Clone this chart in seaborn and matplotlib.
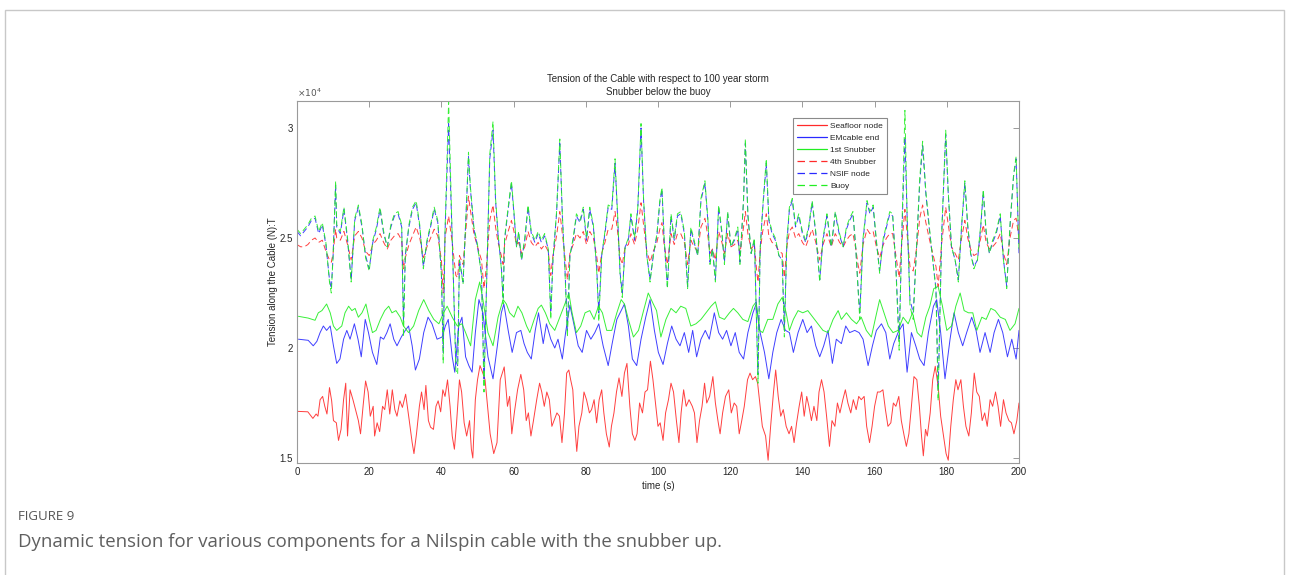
import numpy as np
import pandas as pd
import matplotlib
matplotlib.use("Agg")
import matplotlib.pyplot as plt
from matplotlib.patches import Rectangle
import seaborn as sns

# ---- tension histories (units of 1e4 N) ----
time_upper = [0, 1, 2, 3, 4, 5, 6, 7, 8, 9,
              9.5, 10, 10.7, 11, 12, 13, 14, 15, 16, 17,
              18, 19, 20, 21, 22, 23, 24, 25, 26, 27,
              28, 29, 29.5, 30, 31, 32, 33, 34, 35, 36,
              37, 38, 39, 40, 40.5, 41, 42, 43, 44, 44.5,
              45, 46, 47, 47.5, 48, 49, 50, 51.1, 51.8, 52.4,
              53.4, 54.3, 55, 55.7, 56.6, 57.1, 57.5, 58.5, 59.4, 60.1,
              60.8, 61.4, 62.2, 63.1, 64, 64.9, 65.9, 66.8, 67.7, 68.6,
              69.6, 70.3, 70.9, 71.9, 72.8, 73.5, 74.2, 74.9, 75.6, 76.5,
              77.4, 78.4, 79.3, 80.2, 81.1, 82.1, 83, 83.6, 84.4, 85.3,
              86.2, 87.2, 88.1, 88.8, 89.5, 90.1, 90.9, 91.8, 92.5, 93.5,
              94.4, 95.3, 96, 96.9, 97.8, 98.7, 99.7, 100.5, 101.1, 101.7,
              102.6, 103.6, 104.5, 105.4, 106.3, 107.3, 108.2, 109.1, 110, 111,
              111.9, 113, 113.8, 114.4, 115.1, 115.9, 116.8, 117.7, 118.4, 119.3,
              120.2, 121.2, 122.1, 122.7, 123.7, 124.2, 124.9, 125.8, 126.7, 127.4,
              127.7, 128.3, 129, 130, 130.7, 131.6, 132.5, 133.5, 134.4, 135,
              135.7, 136.4, 137.2, 138.1, 139, 140, 140.9, 141.8, 142.7, 143.7,
              144.8, 145.7, 146.8, 148, 149.1, 150.3, 151.3, 152.2, 153.1, 154,
              154.8, 155.4, 155.9, 156.8, 157.9, 158.7, 159.6, 160.5, 161.4, 162.4,
              163.3, 164.2, 165, 165.9, 166.8, 167.5, 168.4, 169, 169.8, 170.7,
              171.6, 172.5, 173.3, 174.2, 175.1, 176.1, 177, 177.6, 178.6, 179.7,
              180.4, 181.3, 182.3, 183.2, 184.1, 185, 185.8, 186.6, 187.5, 188.5,
              189.4, 190.1, 190.9, 191.8, 192.7, 193.7, 194.8, 195.7, 196.6, 197.5,
              198.5, 199.2, 200]

nsif_node = [2.53, 2.51, 2.53, 2.55, 2.58, 2.59, 2.52, 2.56, 2.47, 2.31,
             2.27, 2.42, 2.74, 2.55, 2.52, 2.63, 2.49, 2.31, 2.58, 2.64,
             2.55, 2.42, 2.36, 2.48, 2.54, 2.63, 2.52, 2.46, 2.55, 2.60,
             2.61, 2.55, 2.12, 2.42, 2.55, 2.63, 2.66, 2.55, 2.37, 2.48,
             2.55, 2.63, 2.57, 2.34, 1.98, 2.52, 3.02, 2.49, 1.94, 1.92,
             2.40, 2.30, 2.67, 2.87, 2.73, 2.54, 2.46, 2.34, 1.86, 2.22,
             2.86, 2.99, 2.67, 2.51, 2.37, 2.23, 2.49, 2.63, 2.75, 2.61,
             2.46, 2.52, 2.40, 2.49, 2.64, 2.52, 2.48, 2.52, 2.48, 2.51,
             2.45, 2.16, 2.40, 2.61, 2.93, 2.60, 2.37, 2.08, 2.42, 2.49,
             2.60, 2.57, 2.63, 2.49, 2.63, 2.55, 2.37, 2.16, 2.42, 2.52,
             2.64, 2.63, 2.84, 2.60, 2.34, 2.25, 2.46, 2.49, 2.60, 2.49,
             2.63, 3.00, 2.67, 2.42, 2.31, 2.42, 2.51, 2.66, 2.72, 2.49,
             2.28, 2.60, 2.49, 2.60, 2.61, 2.52, 2.28, 2.54, 2.48, 2.42,
             2.67, 2.75, 2.58, 2.39, 2.45, 2.31, 2.64, 2.52, 2.39, 2.61,
             2.46, 2.49, 2.54, 2.39, 2.67, 2.93, 2.60, 2.43, 2.49, 2.07,
             1.88, 2.45, 2.63, 2.84, 2.58, 2.52, 2.49, 2.42, 2.40, 2.08,
             2.48, 2.63, 2.67, 2.55, 2.60, 2.52, 2.48, 2.55, 2.66, 2.52,
             2.31, 2.49, 2.60, 2.46, 2.61, 2.51, 2.46, 2.54, 2.58, 2.61,
             2.45, 2.28, 2.16, 2.49, 2.66, 2.61, 2.64, 2.48, 2.35, 2.49,
             2.55, 2.61, 2.60, 2.37, 2.03, 2.49, 2.96, 2.60, 2.22, 2.16,
             2.45, 2.75, 2.92, 2.70, 2.55, 2.40, 2.27, 1.81, 2.52, 2.97,
             2.70, 2.46, 2.40, 2.31, 2.55, 2.75, 2.55, 2.43, 2.37, 2.40,
             2.55, 2.71, 2.52, 2.43, 2.48, 2.52, 2.60, 2.40, 2.28, 2.55,
             2.78, 2.86, 2.43]

buoy = [2.54, 2.52, 2.54, 2.56, 2.59, 2.60, 2.53, 2.57, 2.48, 2.30,
        2.25, 2.42, 2.76, 2.56, 2.53, 2.64, 2.50, 2.30, 2.59, 2.65,
        2.56, 2.41, 2.35, 2.49, 2.55, 2.64, 2.53, 2.46, 2.56, 2.61,
        2.62, 2.56, 2.05, 2.42, 2.56, 2.64, 2.67, 2.56, 2.36, 2.49,
        2.56, 2.64, 2.58, 2.33, 1.93, 2.53, 3.12, 2.50, 1.90, 1.88,
        2.40, 2.29, 2.68, 2.89, 2.74, 2.55, 2.47, 2.33, 1.80, 2.20,
        2.88, 3.03, 2.68, 2.52, 2.36, 2.20, 2.50, 2.64, 2.76, 2.62,
        2.46, 2.53, 2.40, 2.50, 2.65, 2.53, 2.49, 2.53, 2.49, 2.52,
        2.45, 2.13, 2.40, 2.62, 2.95, 2.61, 2.36, 2.05, 2.42, 2.50,
        2.61, 2.58, 2.64, 2.50, 2.64, 2.56, 2.36, 2.12, 2.42, 2.53,
        2.65, 2.64, 2.86, 2.61, 2.33, 2.23, 2.46, 2.50, 2.61, 2.50,
        2.64, 3.02, 2.68, 2.42, 2.30, 2.42, 2.52, 2.67, 2.73, 2.50,
        2.27, 2.61, 2.50, 2.61, 2.62, 2.53, 2.27, 2.55, 2.49, 2.42,
        2.68, 2.76, 2.59, 2.38, 2.45, 2.30, 2.65, 2.53, 2.38, 2.62,
        2.46, 2.50, 2.55, 2.38, 2.68, 2.95, 2.61, 2.43, 2.50, 2.04,
        1.84, 2.45, 2.64, 2.86, 2.59, 2.53, 2.50, 2.42, 2.40, 2.05,
        2.49, 2.64, 2.68, 2.56, 2.61, 2.53, 2.49, 2.56, 2.67, 2.53,
        2.30, 2.50, 2.61, 2.46, 2.62, 2.52, 2.46, 2.55, 2.59, 2.62,
        2.45, 2.27, 2.13, 2.50, 2.67, 2.62, 2.65, 2.49, 2.34, 2.50,
        2.56, 2.62, 2.61, 2.36, 1.99, 2.50, 3.08, 2.61, 2.19, 2.13,
        2.45, 2.77, 2.94, 2.71, 2.56, 2.40, 2.26, 1.76, 2.53, 2.99,
        2.71, 2.46, 2.40, 2.30, 2.56, 2.76, 2.56, 2.43, 2.36, 2.40,
        2.56, 2.72, 2.53, 2.43, 2.49, 2.53, 2.61, 2.40, 2.27, 2.56,
        2.79, 2.87, 2.44]

snubber_4th = [2.47, 2.46, 2.46, 2.47, 2.49, 2.50, 2.48, 2.49, 2.44, 2.40,
               2.39, 2.43, 2.54, 2.50, 2.49, 2.53, 2.47, 2.40, 2.51, 2.53,
               2.50, 2.44, 2.42, 2.47, 2.49, 2.52, 2.48, 2.45, 2.49, 2.51,
               2.52, 2.49, 2.36, 2.41, 2.47, 2.51, 2.55, 2.50, 2.41, 2.46,
               2.50, 2.54, 2.51, 2.40, 2.25, 2.50, 2.60, 2.48, 2.33, 2.32,
               2.42, 2.38, 2.58, 2.69, 2.63, 2.52, 2.46, 2.40, 2.27, 2.36,
               2.58, 2.65, 2.55, 2.48, 2.42, 2.38, 2.47, 2.53, 2.58, 2.53,
               2.47, 2.48, 2.43, 2.46, 2.53, 2.48, 2.46, 2.48, 2.45, 2.47,
               2.44, 2.33, 2.42, 2.51, 2.62, 2.52, 2.42, 2.31, 2.43, 2.47,
               2.52, 2.50, 2.53, 2.47, 2.53, 2.50, 2.42, 2.34, 2.43, 2.48,
               2.54, 2.54, 2.62, 2.53, 2.41, 2.38, 2.46, 2.47, 2.52, 2.47,
               2.54, 2.66, 2.56, 2.44, 2.39, 2.44, 2.48, 2.54, 2.57, 2.47,
               2.38, 2.52, 2.47, 2.52, 2.52, 2.48, 2.38, 2.49, 2.46, 2.44,
               2.55, 2.59, 2.51, 2.43, 2.45, 2.40, 2.53, 2.48, 2.43, 2.52,
               2.46, 2.47, 2.49, 2.43, 2.55, 2.62, 2.52, 2.45, 2.47, 2.34,
               2.30, 2.44, 2.53, 2.61, 2.51, 2.48, 2.47, 2.44, 2.43, 2.32,
               2.46, 2.53, 2.55, 2.50, 2.52, 2.48, 2.46, 2.50, 2.54, 2.48,
               2.40, 2.47, 2.52, 2.46, 2.52, 2.48, 2.46, 2.49, 2.51, 2.52,
               2.45, 2.38, 2.34, 2.47, 2.54, 2.52, 2.53, 2.46, 2.41, 2.47,
               2.50, 2.52, 2.52, 2.42, 2.32, 2.47, 2.63, 2.52, 2.37, 2.35,
               2.45, 2.59, 2.65, 2.57, 2.50, 2.43, 2.37, 2.28, 2.48, 2.64,
               2.56, 2.46, 2.43, 2.40, 2.50, 2.58, 2.50, 2.45, 2.42, 2.43,
               2.50, 2.56, 2.48, 2.45, 2.46, 2.48, 2.52, 2.43, 2.38, 2.50,
               2.58, 2.59, 2.50]

time_first = [0.4, 3.1, 5, 5.9, 6.9, 8.2, 9.2, 10.1, 11, 12.4,
              13.3, 14.3, 15.2, 16.1, 17, 18, 19.1, 20, 20.9, 21.9,
              23.1, 24.3, 25.4, 26.3, 27.4, 28.6, 29.5, 30.9, 32.3, 33.7,
              35.1, 36.5, 37.9, 39.3, 40.6, 41.6, 43, 44.4, 45.7, 46.7,
              48.1, 49.4, 50.6, 51.5, 52.9, 54.3, 55.7, 57.1, 58, 58.9,
              60.1, 61.2, 62.3, 63.6, 64.5, 65.7, 66.8, 67.7, 68.8, 70,
              71.4, 72.8, 74.2, 75.3, 76.2, 77.4, 78.6, 79.8, 81.1, 82.3,
              83.5, 84.6, 85.8, 87.2, 88.6, 89.8, 90.7, 91.8, 93.2, 94.6,
              96, 97.3, 98.7, 99.6, 100.8, 102.2, 103.6, 105, 106.3, 107.7,
              109.1, 110.5, 111.9, 113.3, 114.7, 115.9, 117, 118.4, 119.8, 120.9,
              122.1, 123.5, 124.9, 126.3, 127.2, 128.1, 129, 130.4, 131.8, 133.2,
              134.4, 135.5, 136.4, 137.5, 138.8, 140.1, 141.5, 142.9, 144.3, 145.7,
              147.1, 148.5, 149.9, 150.8, 152.2, 153.6, 155, 156.3, 157.7, 159.1,
              160.3, 161.4, 162.4, 163.8, 165.1, 166.5, 167.9, 169.3, 170.5, 171.8,
              173, 174.2, 175.3, 176.4, 177.6, 178.8, 180, 181.3, 182.5, 183.7,
              184.8, 186, 187.2, 188.3, 189.7, 190.9, 192.2, 193.4, 194.8, 196.2,
              197.5, 198.9, 200]

snubber_1st = [2.144, 2.136, 2.126, 2.16, 2.17, 2.20, 2.16, 2.10, 2.08, 2.10,
               2.16, 2.19, 2.17, 2.18, 2.14, 2.16, 2.20, 2.13, 2.07, 2.08,
               2.13, 2.17, 2.19, 2.16, 2.17, 2.14, 2.10, 2.07, 2.10, 2.17,
               2.22, 2.17, 2.13, 2.11, 2.16, 2.19, 2.14, 2.10, 2.11, 2.07,
               2.01, 2.22, 2.30, 2.22, 2.07, 2.01, 2.14, 2.22, 2.20, 2.16,
               2.14, 2.19, 2.16, 2.10, 2.07, 2.13, 2.18, 2.195, 2.16, 2.11,
               2.08, 2.14, 2.20, 2.25, 2.16, 2.07, 2.10, 2.16, 2.17, 2.13,
               2.19, 2.16, 2.08, 2.08, 2.16, 2.22, 2.20, 2.13, 2.05, 2.08,
               2.17, 2.25, 2.20, 2.17, 2.05, 2.13, 2.18, 2.16, 2.19, 2.18,
               2.10, 2.11, 2.13, 2.16, 2.19, 2.21, 2.14, 2.13, 2.16, 2.18,
               2.16, 2.13, 2.12, 2.19, 2.21, 2.08, 2.07, 2.13, 2.13, 2.20,
               2.23, 2.16, 2.08, 2.13, 2.17, 2.16, 2.17, 2.14, 2.11, 2.08,
               2.07, 2.13, 2.17, 2.13, 2.16, 2.13, 2.11, 2.14, 2.08, 2.05,
               2.14, 2.22, 2.17, 2.10, 2.07, 2.08, 2.14, 2.11, 2.16, 2.07,
               2.05, 2.14, 2.19, 2.27, 2.28, 2.19, 2.08, 2.10, 2.19, 2.25,
               2.17, 2.16, 2.16, 2.08, 2.14, 2.13, 2.18, 2.17, 2.14, 2.13,
               2.08, 2.11, 2.18]

time_emcable = [0.4, 3.1, 4.5, 5.5, 6.4, 7.3, 8.2, 9.2, 10.1, 11,
                11.9, 12.9, 13.8, 14.7, 15.9, 16.9, 17.8, 18.9, 19.8, 20.9,
                22.1, 23.1, 24, 24.9, 25.8, 26.8, 27.7, 28.9, 30, 30.9,
                31.9, 32.8, 33.9, 35.1, 36.3, 37.4, 38.8, 40.2, 41.1, 41.9,
                43, 43.7, 44.8, 45.7, 46.7, 47.6, 48.5, 49.4, 50.4, 51.5,
                52.9, 54.3, 55.5, 56.6, 57.3, 58.5, 59.6, 60.8, 62, 62.9,
                63.8, 64.9, 66, 66.9, 68.2, 69.1, 70.3, 71.4, 72.3, 73.5,
                74.4, 75.6, 76.8, 77.9, 79, 80.2, 81.4, 82.5, 83.6, 84.8,
                86.2, 87.3, 88.6, 89.5, 90.7, 91.8, 92.9, 94.1, 95.3, 96.6,
                97.8, 99, 100.1, 101.4, 102.6, 103.8, 105, 106.1, 107.3, 108.5,
                109.6, 110.7, 111.9, 113.1, 114.2, 115.6, 116.8, 117.9, 119, 120.2,
                121.4, 122.5, 123.7, 124.9, 126.3, 127.2, 128.3, 129.5, 130.7, 131.8,
                132.9, 134.1, 135.3, 136.4, 137.5, 138.8, 140.1, 141.3, 142.5, 143.7,
                144.8, 145.9, 147.1, 148.3, 149.4, 150.8, 152, 153.1, 154.5, 155.7,
                156.8, 158.2, 159.4, 160.5, 161.9, 163.1, 164.2, 165.3, 166.5, 167.9,
                169, 170.2, 171.4, 172.5, 173.7, 174.9, 176.3, 177.2, 178.3, 179.5,
                180.9, 182, 183.2, 184.4, 185.5, 186.9, 188.1, 189.2, 190.6, 192,
                193.1, 194.3, 195.5, 196.8, 198, 199.2, 200]

emcable_end = [2.04, 2.035, 2.01, 2.03, 2.07, 2.10, 2.08, 2.10, 2.01, 1.93,
               1.95, 2.04, 2.08, 2.04, 2.11, 2.04, 1.96, 2.13, 2.07, 1.98,
               1.925, 2.05, 2.04, 2.07, 2.11, 2.04, 2.01, 2.05, 2.08, 2.10,
               2.01, 1.90, 1.95, 2.07, 2.14, 2.11, 2.04, 2.05, 2.10, 2.13,
               1.96, 1.89, 2.10, 2.14, 1.96, 1.92, 1.89, 2.07, 2.22, 2.16,
               1.96, 1.86, 2.01, 2.16, 2.20, 2.08, 1.98, 2.07, 2.08, 2.02,
               1.98, 1.95, 2.08, 2.16, 2.02, 2.11, 2.04, 2.00, 2.04, 1.95,
               2.07, 2.195, 2.10, 2.01, 1.98, 2.08, 2.04, 2.07, 2.11, 2.01,
               1.92, 2.02, 2.13, 2.16, 2.20, 2.10, 1.95, 1.92, 2.04, 2.14,
               2.22, 2.08, 1.98, 1.925, 2.02, 2.10, 2.04, 2.01, 2.07, 1.98,
               2.08, 1.96, 2.04, 2.08, 2.04, 2.16, 2.07, 2.04, 2.08, 2.01,
               2.07, 1.98, 1.95, 2.07, 2.16, 2.20, 2.07, 1.98, 1.86, 1.98,
               2.07, 2.13, 2.08, 2.07, 1.98, 2.07, 2.13, 2.07, 2.10, 2.01,
               1.96, 2.01, 2.08, 1.93, 2.04, 2.02, 2.10, 2.07, 2.08, 2.07,
               2.04, 1.92, 2.01, 2.08, 2.11, 2.07, 1.95, 2.02, 2.07, 2.11,
               1.89, 2.07, 2.01, 1.95, 1.92, 2.07, 2.19, 2.22, 2.07, 1.86,
               2.04, 2.16, 2.07, 2.01, 2.07, 2.14, 2.08, 1.98, 2.07, 1.98,
               2.07, 2.13, 2.07, 1.96, 2.04, 1.95, 2.08]

time_seafloor = [0.2, 3, 4.4, 5.3, 5.8, 6.4, 7.1, 7.7, 8.3, 9,
                 9.6, 10.1, 10.9, 11.5, 12.2, 12.9, 13.5, 14, 14.7, 15.5,
                 16.2, 17, 17.6, 18.3, 19, 19.7, 20.3, 21.1, 21.5, 22.2,
                 22.9, 23.7, 24.3, 25, 25.7, 26.4, 27.1, 27.7, 28.5, 29.2,
                 30.1, 31.1, 31.9, 32.4, 33.1, 33.9, 34.5, 35.2, 35.7, 36.4,
                 37, 37.8, 38.5, 39.1, 39.8, 40.4, 41, 41.7, 42.4, 43,
                 43.6, 44.2, 45, 45.6, 46.3, 47, 47.8, 48.3, 48.7, 49.4,
                 50, 50.7, 51.5, 52.1, 52.8, 53.5, 54.5, 55.4,
                 56.3, 57.4, 58.3, 58.9, 59.5, 60.2, 61.1, 62, 62.8, 63.5,
                 64.1, 64.8, 65.5, 66.4, 67.2, 67.8, 68.5, 69.2, 69.9, 70.6,
                 71.2, 72, 72.7, 73.4, 74.1, 74.7, 75.3, 75.8, 76.4, 76.9,
                 77.5, 78.1, 78.9, 79.5, 80.2, 81, 81.6, 82.3, 83, 83.7,
                 84.4, 85, 85.7, 86.5, 87.1, 87.8, 88.5, 89.2, 90, 90.7,
                 91.4, 92.2, 92.9, 93.6, 94.2, 94.9, 95.7, 96.4, 97.1, 97.9,
                 98.6, 99.4, 100, 100.6, 101.4, 102.1, 102.9, 103.6, 104.3, 105.1,
                 105.8, 106.4, 107.1, 107.8, 108.6, 109.5, 110.1, 110.8, 111.5, 112.2,
                 112.9, 113.5, 114.3, 115.2, 115.9, 116.6, 117.2, 117.9, 118.7, 119.6,
                 120.3, 121.1, 121.8, 122.5, 123.2, 123.9, 124.8, 125.5,
                 126.2, 127.0, 127.6, 128.3, 128.9, 129.8, 130.5, 131.2, 132, 132.6,
                 133.3, 134, 134.7, 135.5, 136.3, 137, 137.7, 138.4, 139.1, 139.8,
                 140.5, 141.2, 141.8, 142.5, 143.2, 144, 144.6, 145.3, 146, 146.7,
                 147.5, 148.2, 149, 149.7, 150.4, 151.2, 151.9, 152.6, 153.4, 154.1,
                 154.9, 155.6, 156.3, 157.1, 157.8, 158.6, 159.3, 160, 160.8, 161.5,
                 162.3, 163, 163.7, 164.5, 165.2, 165.9, 166.7, 167.4, 168.2, 168.8,
                 169.5, 170.2, 170.9, 171.7, 172.4, 173, 173.5, 174.1, 174.6, 175.4,
                 176.1, 176.8, 177.6, 178.3, 179.1, 179.8, 180.4, 181.1, 181.8, 182.5,
                 183.1, 183.9, 184.6, 185.3, 186.1, 186.8, 187.6, 188.3, 189, 189.8,
                 190.5, 191.2, 192, 192.7, 193.5, 194.2, 194.9, 195.7, 196.4, 197.2,
                 197.9, 198.6, 199.4, 200]

seafloor_node = [1.712, 1.71, 1.68, 1.70, 1.69, 1.765, 1.78, 1.735, 1.70, 1.82,
                 1.76, 1.67, 1.66, 1.58, 1.63, 1.765, 1.84, 1.60, 1.81, 1.765,
                 1.72, 1.67, 1.61, 1.735, 1.85, 1.80, 1.69, 1.735, 1.60, 1.66,
                 1.62, 1.735, 1.72, 1.81, 1.70, 1.81, 1.72, 1.69, 1.76, 1.73,
                 1.79, 1.67, 1.57, 1.52, 1.61, 1.735, 1.80, 1.72, 1.83, 1.67,
                 1.64, 1.63, 1.735, 1.76, 1.71, 1.81, 1.78, 1.855, 1.735, 1.60,
                 1.54, 1.66, 1.855, 1.80, 1.66, 1.60, 1.67, 1.54, 1.50, 1.765,
                 1.855, 1.92, 1.885, 1.855, 1.735, 1.61, 1.52, 1.57,
                 1.856, 1.914, 1.735, 1.78, 1.61, 1.705, 1.81, 1.88, 1.81, 1.67,
                 1.705, 1.60, 1.67, 1.765, 1.84, 1.80, 1.735, 1.80, 1.765, 1.644,
                 1.67, 1.705, 1.69, 1.57, 1.705, 1.886, 1.90, 1.856, 1.81, 1.66,
                 1.53, 1.644, 1.705, 1.80, 1.765, 1.705, 1.72, 1.765, 1.66, 1.765,
                 1.81, 1.705, 1.61, 1.55, 1.644, 1.705, 1.80, 1.864, 1.78, 1.886,
                 1.93, 1.735, 1.61, 1.58, 1.61, 1.75, 1.705, 1.80, 1.81, 1.94,
                 1.856, 1.735, 1.644, 1.66, 1.58, 1.705, 1.765, 1.84, 1.80, 1.67,
                 1.57, 1.705, 1.81, 1.735, 1.765, 1.735, 1.705, 1.57, 1.67, 1.735,
                 1.84, 1.75, 1.78, 1.87, 1.75, 1.67, 1.61, 1.705, 1.78, 1.81,
                 1.705, 1.75, 1.735, 1.61, 1.67, 1.735, 1.856, 1.886,
                 1.856, 1.87, 1.84, 1.735, 1.644, 1.60, 1.49, 1.644, 1.80, 1.90,
                 1.78, 1.69, 1.72, 1.644, 1.61, 1.644, 1.57, 1.66, 1.735, 1.80,
                 1.69, 1.78, 1.735, 1.67, 1.735, 1.67, 1.80, 1.856, 1.80, 1.69,
                 1.553, 1.67, 1.644, 1.75, 1.705, 1.765, 1.81, 1.75, 1.705, 1.765,
                 1.72, 1.78, 1.765, 1.78, 1.644, 1.57, 1.644, 1.735, 1.80, 1.80,
                 1.81, 1.72, 1.644, 1.66, 1.75, 1.735, 1.78, 1.67, 1.60, 1.553,
                 1.61, 1.735, 1.87, 1.856, 1.735, 1.60, 1.51, 1.63, 1.60, 1.705,
                 1.856, 1.917, 1.826, 1.69, 1.60, 1.52, 1.49, 1.644, 1.765, 1.856,
                 1.81, 1.856, 1.735, 1.644, 1.60, 1.705, 1.886, 1.80, 1.78, 1.67,
                 1.705, 1.644, 1.765, 1.735, 1.80, 1.735, 1.644, 1.765, 1.705, 1.67,
                 1.66, 1.61, 1.67, 1.75]

series_names = ["Seafloor node", "EMcable end", "1st Snubber",
                "4th Snubber", "NSIF node", "Buoy"]
x_ticks = [0, 20, 40, 60, 80, 100, 120, 140, 160, 180, 200]
y_ticks = [1.5, 2, 2.5, 3]
y_tick_labels = ["1.5", "2", "2.5", "3"]

# ---- assemble long-form table ----
series_data = [
    (series_names[0], time_seafloor, seafloor_node),
    (series_names[1], time_emcable, emcable_end),
    (series_names[2], time_first, snubber_1st),
    (series_names[3], time_upper, snubber_4th),
    (series_names[4], time_upper, nsif_node),
    (series_names[5], time_upper, buoy),
]
frames = []
for name, t, v in series_data:
    frames.append(pd.DataFrame({"time": t, "tension": v, "series": name}))
df = pd.concat(frames, ignore_index=True)

styles = {
    "Seafloor node": dict(color="#ff2a2a", dashed=False),
    "EMcable end": dict(color="#2a2aff", dashed=False),
    "1st Snubber": dict(color="#22ee22", dashed=False),
    "4th Snubber": dict(color="#ff2a2a", dashed=True),
    "NSIF node": dict(color="#2a2aff", dashed=True),
    "Buoy": dict(color="#22ee22", dashed=True),
}

sns.set_theme(style="white")
plt.rcParams["font.family"] = ["Liberation Sans", "DejaVu Sans"]

W, H = 1290, 575
fig = plt.figure(figsize=(W / 100, H / 100), dpi=100)
fig.patch.set_facecolor("white")

# page frame around the figure
fig.add_artist(Rectangle((5 / W, -0.05), 1279 / W, 1.05 - 10 / H,
                         transform=fig.transFigure, fill=False,
                         edgecolor="#c8c8c8", linewidth=1.0))

ax = fig.add_axes([297 / W, 1 - 463 / H, 722 / W, 362 / H])
ax.set_facecolor("white")

line_w = 0.7
for name in series_names:
    st = styles[name]
    sub = df[df["series"] == name]
    sns.lineplot(data=sub, x="time", y="tension", ax=ax, color=st["color"],
                 linewidth=line_w, estimator=None, sort=False, legend=False,
                 alpha=0.9)
    ln = ax.lines[-1]
    ln.set_label(name)
    if st["dashed"]:
        ln.set_dashes([6, 3.5])

ax.set_xlim(0, 200)
ax.set_ylim(1.4773, 3.1227)
ax.set_xticks(x_ticks)
ax.set_xticklabels([str(t) for t in x_ticks])
ax.set_yticks(y_ticks)
ax.set_yticklabels(y_tick_labels)

axis_col = "#9a9a9a"
text_col = "#262626"
for sp in ax.spines.values():
    sp.set_visible(True)
    sp.set_color(axis_col)
    sp.set_linewidth(0.8)
ax.tick_params(axis="both", direction="in", length=4, width=0.7,
               color=axis_col, labelcolor=text_col, labelsize=7,
               top=True, right=True, pad=3)

ax.set_xlabel("time (s)", fontsize=7, color=text_col, labelpad=3)
ax.set_ylabel("Tension along the Cable (N):T", fontsize=7, color=text_col,
              labelpad=1)
ax.set_title("Tension of the Cable with respect to 100 year storm\n"
             "Snubber below the buoy", fontsize=7, color=text_col,
             linespacing=1.4, pad=4)
ax.text(0.0, 1.005, r"$\times10^{4}$", transform=ax.transAxes,
        fontsize=6.5, color="#555555", ha="left", va="bottom")

leg = ax.legend(handles=list(ax.lines), labels=series_names,
                loc="upper left", bbox_to_anchor=(0.687, 0.952), fontsize=6,
                frameon=True, fancybox=False, framealpha=1,
                edgecolor="#8a8a8a", handlelength=3.6, handletextpad=0.4,
                labelspacing=0.5, borderpad=0.45, borderaxespad=0)
leg.get_frame().set_linewidth(0.8)
for txt in leg.get_texts():
    txt.set_color(text_col)
for lh in leg.get_lines():
    lh.set_linewidth(0.9)
    lh.set_alpha(1.0)

fig.text(18 / W, 1 - 516 / H, "FIGURE 9", fontsize=9.5, color="#555555",
         family=["Open Sans", "DejaVu Sans"], va="center", ha="left")
fig.text(18 / W, 1 - 542 / H,
         "Dynamic tension for various components for a Nilspin cable with the snubber up.",
         fontsize=13.4, color="#5f5f5f", family=["Open Sans", "DejaVu Sans"],
         va="center", ha="left")

fig.savefig("out.png", dpi=100, facecolor="white")
